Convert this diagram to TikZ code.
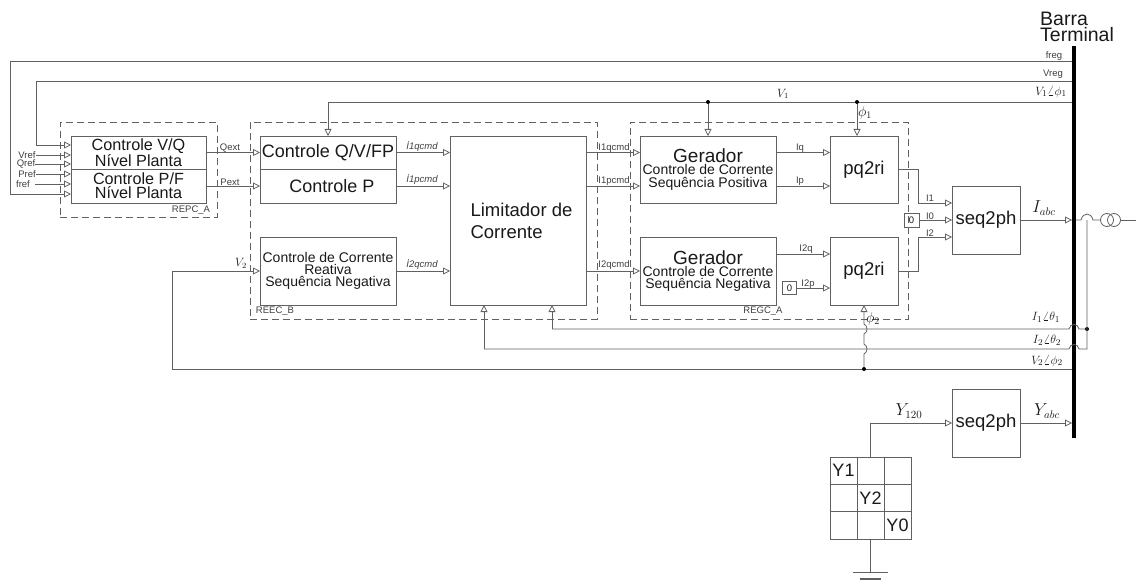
\documentclass[tikz,border=0pt]{standalone}
\usepackage{fontspec}
\setmainfont{Liberation Sans}
\usetikzlibrary{arrows.meta}
\definecolor{linha}{gray}{0.38}
\definecolor{texto}{gray}{0.1}
\tikzset{
  bloco/.style={draw=linha,line width=0.9pt,inner sep=0pt,outer sep=0pt,text=texto,align=center},
  grupo/.style={draw=linha,line width=0.9pt,dash pattern=on 7pt off 4pt,inner sep=0pt,outer sep=0pt},
  sinal/.style={draw=linha,line width=0.8pt,-{Triangle[open,length=7pt,width=7pt]}},
  fio/.style={draw=linha,line width=0.8pt},
  rot/.style={font=\fontsize{9.5}{10}\selectfont,text=black!75,inner sep=0pt},
  rotit/.style={font=\fontsize{9.5}{10}\selectfont\itshape,text=black!75,inner sep=0pt},
  ponto/.style={circle,fill=black,inner sep=0pt,minimum size=4pt}
}
\newcommand{\tamA}{\fontsize{16.2}{14}\selectfont}
\newcommand{\tamB}{\fontsize{18}{16}\selectfont}
\newcommand{\tamC}{\fontsize{14}{12.3}\selectfont}
\newcommand{\tamD}{\fontsize{18.5}{18}\selectfont}
\begin{document}
\begin{tikzpicture}[x=1pt,y=-1pt]
  \useasboundingbox (0,0) rectangle (1136,583);

  % caixas tracejadas
  \node[grupo,minimum width=157pt,minimum height=95pt] (repc) at (138.5,169.5) {};
  \node[grupo,minimum width=347pt,minimum height=197pt] (reec) at (423.5,220.5) {};
  \node[grupo,minimum width=278pt,minimum height=197pt] (regc) at (769,220.5) {};
  \node[rot] at (191,210) {REPC\_A};
  \node[rot] at (275,311) {REEC\_B};
  \node[rot] at (763,311) {REGC\_A};

  % blocos
  \node[bloco,minimum width=135pt,minimum height=33pt,font=\tamA] (plantqv) at (138.5,152.5) {Controle V/Q\\Nível Planta};
  \node[bloco,minimum width=135pt,minimum height=34pt,font=\tamA] (plantpf) at (138.5,186) {Controle P/F\\Nível Planta};
  \node[bloco,minimum width=136pt,minimum height=33pt,font=\tamB] (qvfp) at (328,152.5) {Controle Q/V/FP};
  \node[bloco,minimum width=136pt,minimum height=34pt,font=\tamB] (ctrlp) at (328,186) {\hspace*{8pt}Controle P};
  \node[bloco,minimum width=136pt,minimum height=68pt,font=\tamC] (corneg) at (328,271) {Controle de Corrente\\Reativa\\Sequência Negativa};
  \node[bloco,minimum width=136pt,minimum height=169pt,font=\fontsize{18.5}{22}\selectfont,align=left] (lim) at (518,220.5) {\hspace*{7pt}Limitador de\\\hspace*{7pt}Corrente};
  \node[bloco,minimum width=136pt,minimum height=67pt,font=\tamC] (gerp) at (708,169.5) {{\fontsize{19}{18}\selectfont Gerador}\\Controle de Corrente\\Sequência Positiva};
  \node[bloco,minimum width=136pt,minimum height=68pt,font=\tamC] (gern) at (708,271) {{\fontsize{19}{18}\selectfont Gerador}\\Controle de Corrente\\Sequência Negativa};
  \node[bloco,minimum width=68pt,minimum height=67pt,font=\tamD] (pqa) at (864,169.5) {pq2ri};
  \node[bloco,minimum width=68pt,minimum height=68pt,font=\tamD] (pqb) at (864,271) {pq2ri};
  \node[bloco,minimum width=68pt,minimum height=68pt,font=\tamD] (seqa) at (986,220) {seq2ph};
  \node[bloco,minimum width=68pt,minimum height=68pt,font=\tamD] (seqb) at (986,423) {seq2ph};
  \node[bloco,minimum width=15pt,minimum height=14pt,font=\fontsize{9.5}{10}\selectfont] (zeroa) at (911.5,220) {0};
  \node[bloco,minimum width=14pt,minimum height=13pt,font=\fontsize{9.5}{10}\selectfont] (zerob) at (789.5,288) {0};

  % barra terminal
  \node[fill=black,minimum width=4pt,minimum height=392pt,inner sep=0pt,outer sep=0pt] (bus) at (1074,242) {};
  \node[font=\fontsize{19.5}{15.5}\selectfont,align=left,text=texto,inner sep=0pt] (barra) at (1077,27) {Barra\\Terminal};

  % matriz Y
  \foreach \X in {1,...,3} {
  \foreach \Y in {1,...,3} {
     \node[bloco,minimum width=27pt,minimum height=27.33pt] (c\X\Y) at (816.5+27*\X,443.33+27.33*\Y) {};
  }}
  \foreach \X/\T in {1/Y1,2/Y2,3/Y0} {
     \node[font=\fontsize{18}{18}\selectfont,text=texto,inner sep=0pt] at (c\X\X) {\T};
  }

  % entradas
  \foreach \N/\T/\Xa/\Ya in {vref/Vref/27/155,qref/Qref/26/164,pref/Pref/27/174,fref/fref/23/184} {
     \node[rot] (\N) at (\Xa,\Ya) {\T};
  }
  \coordinate (inV) at (plantqv.west |- 0,155);
  \draw[sinal] (vref.east) -- (inV);
  \draw[sinal] (qref.east) -- (plantqv.west |- qref.east);
  \draw[sinal] (pref.east) -- (plantpf.west |- pref.east);
  \draw[sinal] ([xshift=5pt]fref.east) -- (plantpf.west |- fref.east);

  % realimentacao do alto
  \draw[sinal] (bus.west |- 0,61) -- (10,61) -- (10,194) -- (plantpf.west |- 0,194);
  \draw[sinal] (bus.west |- 0,81) -- (36,81) -- (36,145) -- (plantqv.west |- 0,145);
  \draw[sinal] (bus.west |- 0,102) -| (qvfp.north);
  \node[ponto] (jger) at (gerp.north |- 0,102) {};
  \node[ponto] (jpq) at (857,102) {};
  \draw[sinal] (jger) -- (gerp.north);
  \draw[sinal] (jpq) -- (jpq |- pqa.north);

  \node[rot] at (1054,56) {freg};
  \node[rot] at (1053,74) {Vreg};
  \node[text=texto,inner sep=0pt] at (1051,92) {\fontsize{12.5}{12}\selectfont $V_1\angle\phi_1$};
  \node[text=texto,inner sep=0pt] at (783,94) {\fontsize{12}{12}\selectfont $V_1$};
  \node[text=texto,inner sep=0pt] at (865,113) {\fontsize{14}{14}\selectfont $\phi_1$};

  % ligacoes entre blocos
  \draw[sinal] (plantqv.east) -- (qvfp.west);
  \draw[sinal] (plantpf.east) -- (ctrlp.west);
  \node[rot] at (230,148) {Qext};
  \node[rot] at (230,182) {Pext};
  \draw[sinal] (qvfp.east) -- (qvfp.east -| lim.west);
  \draw[sinal] (ctrlp.east) -- (ctrlp.east -| lim.west);
  \draw[sinal] (corneg.east) -- (corneg.east -| lim.west);
  \node[rotit] at (422,147) {\.I1qcmd};
  \node[rotit] at (422,180) {\.I1pcmd};
  \node[rotit] at (422,265) {\.I2qcmd};
  \draw[sinal] (qvfp.east -| lim.east) -- (qvfp.east -| gerp.west);
  \draw[sinal] (ctrlp.east -| lim.east) -- (ctrlp.east -| gerp.west);
  \draw[sinal] (corneg.east -| lim.east) -- (gern.west);
  \node[rot] at (614,148) {I1qcmd};
  \node[rot] at (614,181) {I1pcmd};
  \node[rot] at (614,265) {I2qcmd};
  \draw[sinal] (gerp.east |- qvfp.east) -- (pqa.west |- qvfp.east);
  \draw[sinal] (gerp.east |- ctrlp.east) -- (pqa.west |- ctrlp.east);
  \draw[sinal] ([yshift=17pt]gern.east) -- ([yshift=17pt]pqb.west);
  \draw[sinal] (zerob.east) -- (pqb.west |- zerob.east);
  \node[rot] at (800,148) {Iq};
  \node[rot] at (800,181) {Ip};
  \node[rot] at (806,249) {I2q};
  \node[rot] at (808,284) {I2p};

  % entradas do seq2ph
  \draw[sinal] (pqa.east) -- (918,169.5) -- (918,203) -- (seqa.west |- 0,203);
  \draw[sinal] (zeroa.east) -- (seqa.west);
  \draw[sinal] (pqb.east) -- (918,271) -- (918,237) -- (seqa.west |- 0,237);
  \node[rot] at (930,198) {I1};
  \node[rot] at (930,216) {I0};
  \node[rot] at (930,233) {I2};

  % saida para a barra e transformador
  \draw[sinal] (seqa.east) -- (bus.west |- seqa.east);
  \node[text=texto,inner sep=0pt] at (1044,208) {\fontsize{16}{16}\selectfont $I_{abc}$};
  \node[draw=linha,circle,line width=0.8pt,minimum size=13pt,inner sep=0pt] (trafoa) at (1107,220) {};
  \node[draw=linha,circle,line width=0.8pt,minimum size=13pt,inner sep=0pt] (trafob) at (1114,220) {};
  \draw[fio] (bus.east |- trafoa) -- (1081,220) .. controls (1083,212) and (1091,212) .. (1093,220) -- (trafoa.west);
  \draw[fio] (trafob.east) -- (1136,220);

  % medidas de corrente e tensao
  \node[ponto] (jcor) at (1087,329) {};
  \draw[fio] (1087,220) -- (1087,349) -- (1079,349) .. controls (1078,343) and (1070,343) .. (1069,349) -- (484,349) coordinate (vai);
  \draw[sinal] (vai) -- ([xshift=-34pt]lim.south);
  \draw[fio] (jcor) -- (1079,329) .. controls (1078,323) and (1070,323) .. (1069,329) -- (552,329) coordinate (vem);
  \draw[sinal] (vem) -- ([xshift=34pt]lim.south);
  \coordinate (vdois) at (172,369);
  \draw[sinal] (bus.west |- vdois) -- (vdois) -- (172,271) -- (corneg.west);
  \node[text=texto,inner sep=0pt] at (241,263) {\fontsize{12}{12}\selectfont $V_2$};
  \node[ponto] (jfi) at (864,369) {};
  \draw[sinal] (jfi) -- (864,354) .. controls (868,352) and (868,346) .. (864,344) -- (864,334) .. controls (868,332) and (868,326) .. (864,324) -- (pqb.south);
  \node[text=texto,inner sep=0pt] at (873,319) {\fontsize{14}{14}\selectfont $\phi_2$};
  \node[text=texto,inner sep=0pt] at (1046,317) {\fontsize{13}{13}\selectfont $I_1\angle\theta_1$};
  \node[text=texto,inner sep=0pt] at (1047,340) {\fontsize{13}{13}\selectfont $I_2\angle\theta_2$};
  \node[text=texto,inner sep=0pt] at (1047,361) {\fontsize{12.5}{12}\selectfont $V_2\angle\phi_2$};

  % admitancia
  \draw[sinal] (c21.north) |- (seqb.west);
  \draw[sinal] (seqb.east) -- (bus.west |- seqb.east);
  \node[text=texto,inner sep=0pt] at (909,411) {\fontsize{16}{16}\selectfont $Y_{120}$};
  \node[text=texto,inner sep=0pt] at (1047,411) {\fontsize{16}{16}\selectfont $Y_{abc}$};
  \coordinate (terra) at (c23.south |- 0,572);
  \draw[fio] (c23.south) -- (terra);
  \draw[fio] ([xshift=-17.5pt]terra) -- ([xshift=17.5pt]terra);
  \draw[fio,line width=1.2pt] ([xshift=-10.5pt,yshift=-7pt]terra) -- ([xshift=10.5pt,yshift=-7pt]terra);
\end{tikzpicture}
\end{document}
